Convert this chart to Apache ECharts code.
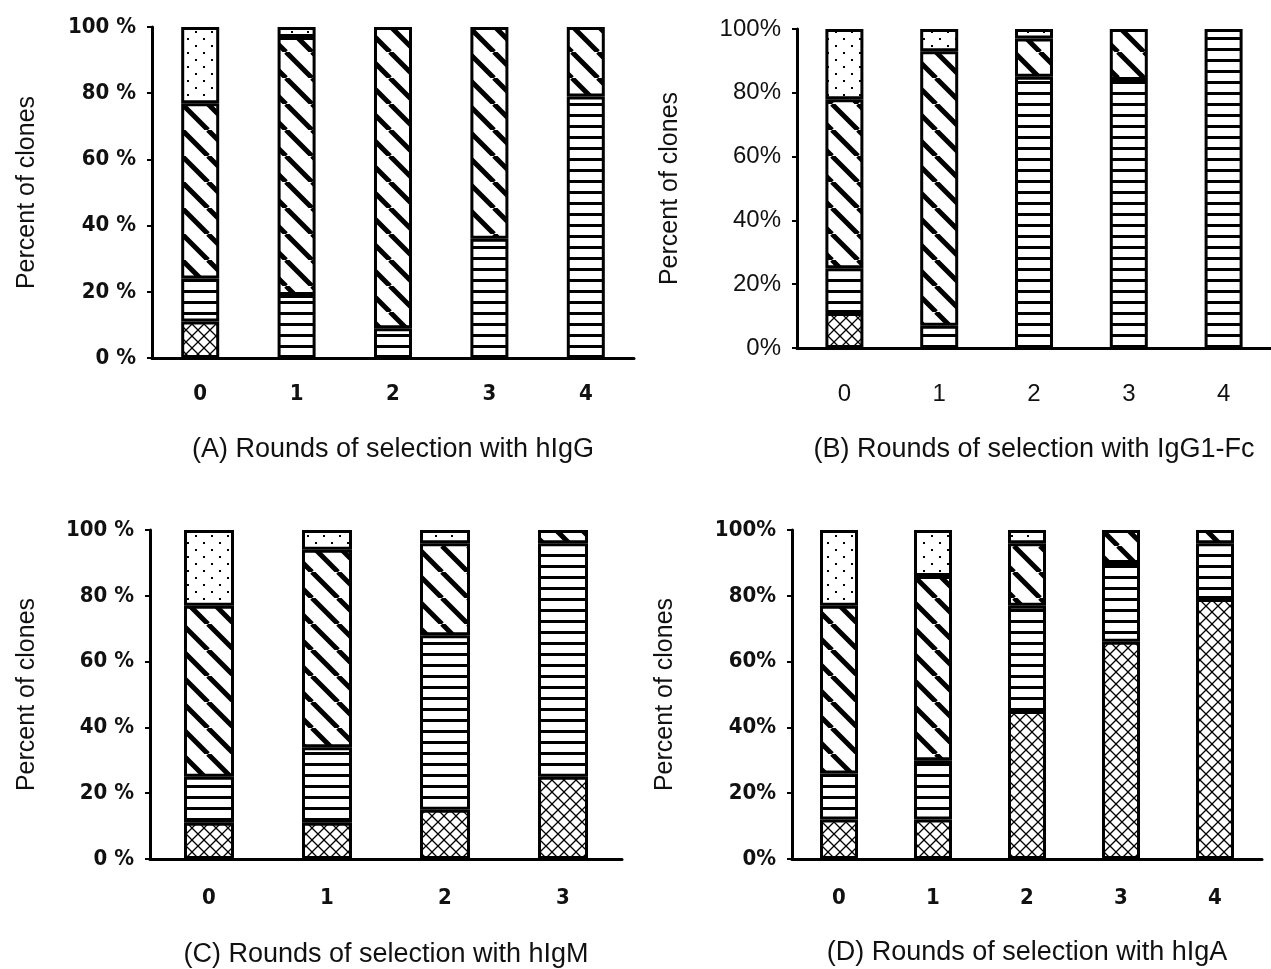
<!DOCTYPE html>
<html>
<head>
<meta charset="utf-8">
<script src="https://cdn.jsdelivr.net/npm/echarts@6/dist/echarts.min.js"></script>
<style>
  html, body { margin: 0; padding: 0; background: #fff; }
  #chart { width: 1271px; height: 969px; }
</style>
</head>
<body>
<div id="chart"></div>
<script>
// rounds of selection (categories)
const roundsA = ['0', '1', '2', '3', '4']
const roundsB = ['0', '1', '2', '3', '4']
const roundsC = ['0', '1', '2', '3']
const roundsD = ['0', '1', '2', '3', '4']

// percent of clones, per pattern, bottom to top
const crossA = [11, 0, 0, 0, 0]
const horizA = [13, 19, 9, 36, 79]
const diagA = [53, 78, 91, 64, 21]
const dotsA = [23, 3, 0, 0, 0]

const crossB = [11, 0, 0, 0, 0]
const horizB = [14, 7, 85, 84, 100]
const diagB = [53, 86, 12, 16, 0]
const dotsB = [22, 7, 3, 0, 0]

const crossC = [11, 11, 15, 25]
const horizC = [14, 23, 53, 71]
const diagC = [52, 60, 28, 4]
const dotsC = [23, 6, 4, 0]

const crossD = [12, 12, 45, 66, 79]
const horizD = [14, 18, 32, 24, 17]
const diagD = [51, 56, 19, 10, 4]
const dotsD = [23, 14, 4, 0, 0]

const yTicks = [0, 20, 40, 60, 80, 100]

const titles = [
  '(A) Rounds of selection with hIgG',
  '(B) Rounds of selection with IgG1-Fc',
  '(C) Rounds of selection with hIgM',
  '(D) Rounds of selection with hIgA'
]

// pattern tiles
function makeTile(w, h, draw) {
  const c = document.createElement('canvas')
  c.width = w
  c.height = h
  const ctx = c.getContext('2d')
  ctx.fillStyle = '#fff'
  ctx.fillRect(0, 0, w, h)
  ctx.strokeStyle = '#000'
  ctx.fillStyle = '#000'
  draw(ctx, w, h)
  return c
}

const crossTile = makeTile(12, 12, (ctx, w, h) => {
  ctx.lineWidth = 1.3
  ctx.beginPath()
  ctx.moveTo(0, 0); ctx.lineTo(w, h)
  ctx.moveTo(w, 0); ctx.lineTo(0, h)
  ctx.stroke()
})
const horizTile = makeTile(8, 11, (ctx, w) => {
  ctx.fillRect(0, 4, w, 3)
})
const diagTile = makeTile(26, 26, (ctx, w, h) => {
  ctx.lineWidth = 5
  ctx.beginPath()
  for (const k of [-w, 0, w]) {
    ctx.moveTo(k, 0)
    ctx.lineTo(k + w, h)
  }
  ctx.stroke()
})
const dotsTile = makeTile(16, 14, (ctx) => {
  ctx.fillRect(3, 3, 2, 2)
  ctx.fillRect(11, 10, 2, 2)
})

const patterns = [crossTile, horizTile, diagTile, dotsTile].map(t => ({ image: t, repeat: 'repeat' }))

const panels = [
  { cats: roundsA, data: [crossA, horizA, diagA, dotsA], grid: { left: 152, top: 27, width: 482, height: 331 }, fmt: '{value} %', bold: true, barWidth: 38, yGap: 112, xGap: 78, xMargin: 25 },
  { cats: roundsB, data: [crossB, horizB, diagB, dotsB], grid: { left: 797, top: 29, width: 482, height: 319 }, fmt: '{value}%', bold: false, barWidth: 38, yGap: 114, xGap: 88, xMargin: 34 },
  { cats: roundsC, data: [crossC, horizC, diagC, dotsC], grid: { left: 150, top: 530, width: 472, height: 329 }, fmt: '{value} %', bold: true, barWidth: 50, yGap: 110, xGap: 82, xMargin: 28 },
  { cats: roundsD, data: [crossD, horizD, diagD, dotsD], grid: { left: 792, top: 530, width: 470, height: 329 }, fmt: '{value}%', bold: true, barWidth: 38, yGap: 114, xGap: 80, xMargin: 28 }
]

const font = "'DejaVu Sans Condensed', 'Liberation Sans', sans-serif"
const plain = "'Liberation Sans', Arial, sans-serif"

const chart = echarts.init(document.getElementById('chart'))

const option = {
  backgroundColor: '#fff',
  animation: false,
  grid: panels.map(p => p.grid),
  xAxis: panels.map((p, i) => ({
    type: 'category',
    gridIndex: i,
    data: p.cats,
    name: titles[i],
    nameLocation: 'middle',
    nameGap: p.xGap,
    nameTextStyle: { color: '#111', fontSize: 27, fontFamily: plain },
    axisLine: { lineStyle: { color: '#000', width: 3 } },
    axisTick: { show: false },
    axisLabel: {
      color: '#111',
      fontSize: p.bold ? 22 : 24,
      fontWeight: p.bold ? 'bold' : 'normal',
      fontFamily: p.bold ? font : plain,
      margin: p.xMargin
    }
  })),
  yAxis: panels.map((p, i) => ({
    type: 'value',
    gridIndex: i,
    min: yTicks[0],
    max: yTicks[yTicks.length - 1],
    interval: yTicks[1] - yTicks[0],
    name: 'Percent of clones',
    nameLocation: 'middle',
    nameGap: p.yGap,
    nameTextStyle: { color: '#111', fontSize: 25, fontFamily: plain },
    axisLine: { show: true, lineStyle: { color: '#000', width: 3 } },
    axisTick: { show: true, inside: false, length: 5, lineStyle: { color: '#000', width: 2 } },
    splitLine: { show: false },
    axisLabel: {
      color: '#111',
      fontSize: p.bold ? 22 : 24,
      fontWeight: p.bold ? 'bold' : 'normal',
      fontFamily: p.bold ? font : plain,
      margin: 16,
      formatter: p.fmt
    }
  })),
  series: panels.flatMap((p, i) => p.data.map((vals, k) => ({
    type: 'bar',
    xAxisIndex: i,
    yAxisIndex: i,
    stack: 'panel' + i,
    barWidth: p.barWidth,
    itemStyle: { color: patterns[k], borderColor: '#000', borderWidth: 3 },
    data: vals.map(v => (v === 0 ? null : v))
  })))
}

chart.setOption(option)
</script>
</body>
</html>
